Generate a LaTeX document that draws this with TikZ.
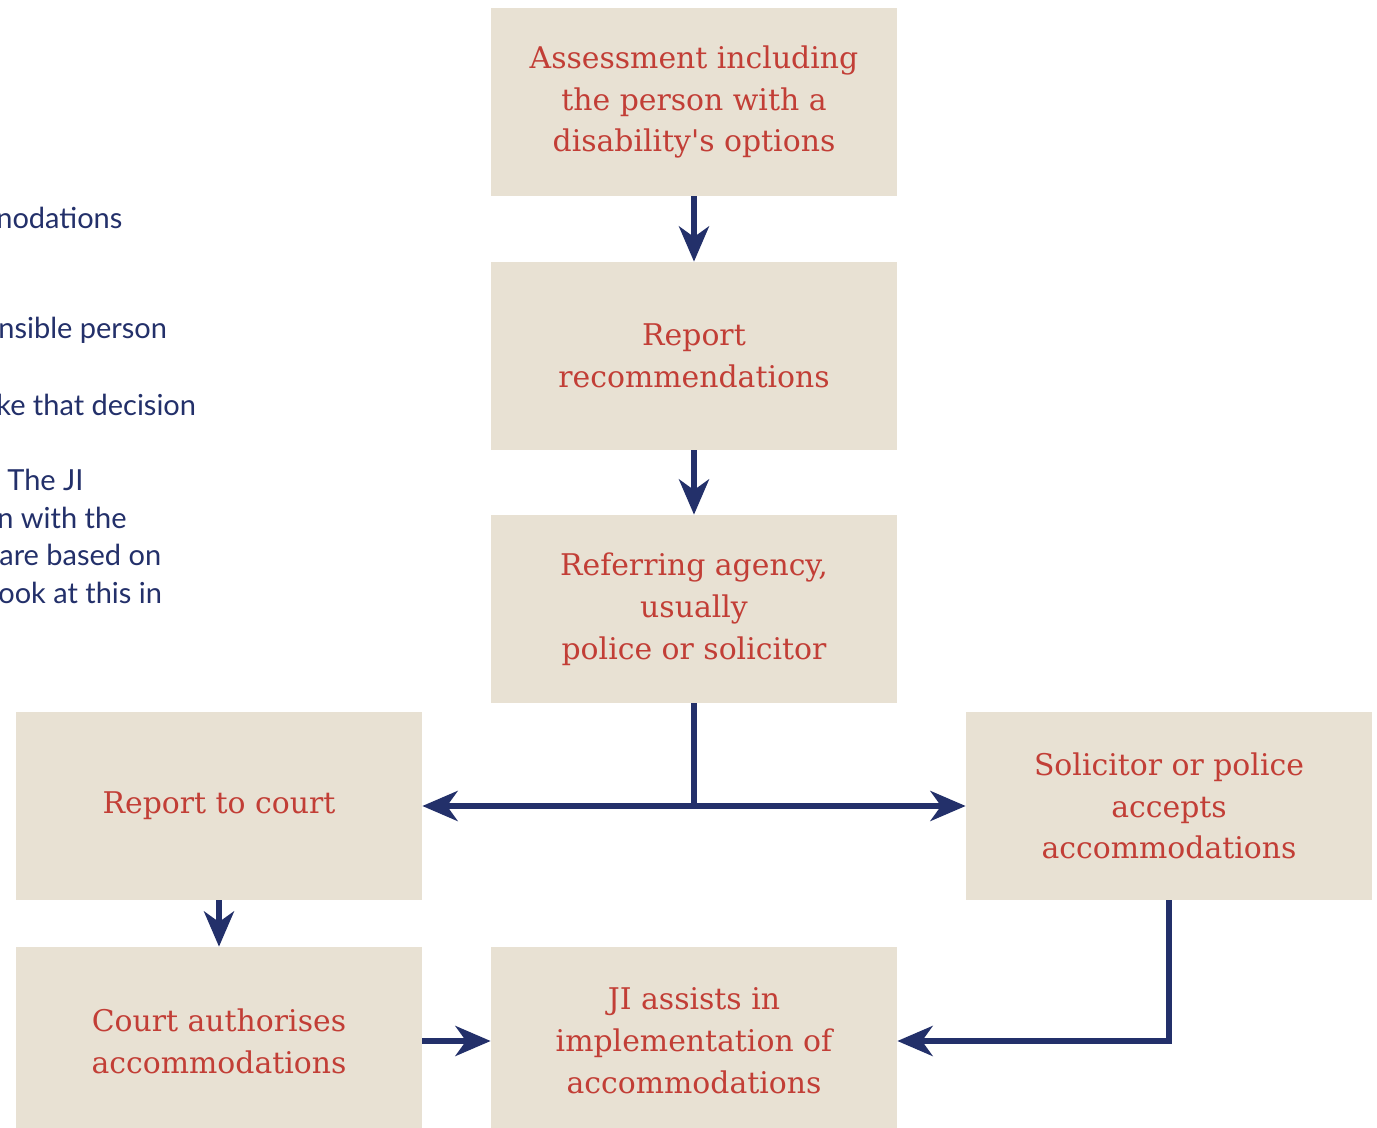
\documentclass[tikz,border=0pt]{standalone}
\usepackage{fontspec}
\setmainfont{DejaVu Serif}
\newfontfamily\sidefont{Lato}
\usepackage{tikz}
\usetikzlibrary{arrows.meta,positioning}

\definecolor{boxfill}{HTML}{E8E1D3}
\definecolor{boxtext}{HTML}{C23E36}
\definecolor{navy}{HTML}{23306A}

\tikzset{
	stepbox/.style={fill=boxfill, text=boxtext, minimum width=406*0.02cm, minimum height=188*0.02cm,
		align=center, inner sep=0pt, font=\fontsize{17}{23.8}\selectfont},
	flow/.style={navy, line width=3.4pt, -{Stealth[length=20pt, width=17pt, inset=6pt]}},
	sidenote/.style={anchor=west, text=navy, inner sep=0pt, font=\sidefont\fontsize{16.5}{21}\selectfont}
}

\begin{document}
\begin{tikzpicture}[x=0.02cm, y=-0.02cm]
			\clip (0, 0) rectangle (1377, 1128);
			\fill[white] (0, 0) rectangle (1377, 1128);

			% cut-off text on the left
			\node[sidenote] (side1) at (-4, 218) {nodations};
			\node[sidenote] (side2) at (-2, 330) {nsible person};
			\node[sidenote] (side3) at (-4, 405) {ke that decision};
			\node[sidenote] (side4) at (7, 480) {The JI};
			\node[sidenote] (side5) at (-3, 518) {n with the};
			\node[sidenote] (side6) at (-1, 555) {are based on};
			\node[sidenote] (side7) at (-2, 593) {ook at this in};

			\node[stepbox] (assess) at (694, 102) {Assessment including\\the person with a\\disability\textquotesingle s options};
			\node[stepbox] (recs) at (694, 356) {Report\\recommendations};
			\node[stepbox] (refer) at (694, 609) {Referring agency,\\usually\\police or solicitor};
			\node[stepbox] (court) at (219, 806) {Report to court};
			\node[stepbox] (solic) at (1169, 806) {Solicitor or police\\accepts\\accommodations};
			\node[stepbox] (auth) at (219, 1041) {Court authorises\\accommodations};
			\node[stepbox] (ji) at (694, 1041) {JI assists in\\implementation of\\accommodations};

			\coordinate (split) at (refer.south |- court.east);

			\draw [flow] (assess) to (recs);
			\draw [flow] (recs) to (refer);
			\draw [navy, line width=3.4pt] (refer.south) to ([yshift=-1.7pt]split);
			\draw [flow] (split) to (court.east);
			\draw [flow] (split) to (solic.west);
			\draw [flow] (court) to (auth);
			\draw [flow] (auth) to (ji);
			\draw [flow] (solic.south) |- (ji.east);
		\end{tikzpicture}
\end{document}
